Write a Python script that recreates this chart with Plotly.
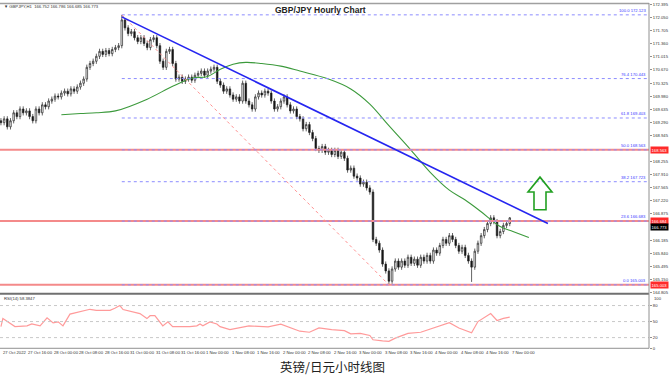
import plotly.graph_objects as go

W, H = 672, 377

# ---------------- data ----------------
open_ = [169.33,169.28,169.38,169.17,169.33,169.54,169.44,169.64,169.54,169.59,169.44,169.33,169.64,169.54,169.75,169.70,
         169.85,169.90,169.98,169.96,170.06,170.11,170.04,170.17,170.11,170.22,170.32,170.43,170.74,170.84,170.90,171.03,
         171.16,171.08,171.18,171.10,171.21,171.26,171.31,171.99,171.78,171.63,171.68,171.52,171.42,171.52,171.37,171.26,
         171.47,171.52,171.31,170.90,170.74,171.16,171.21,170.84,170.43,170.48,170.37,170.43,170.48,170.40,170.53,170.58,
         170.64,170.53,170.64,170.69,170.74,170.37,170.27,170.11,170.17,170.01,169.90,169.96,169.85,170.32,169.85,169.75,
         169.64,169.96,170.06,170.01,170.11,170.06,169.85,169.64,169.70,169.85,169.96,169.75,169.59,169.64,169.44,169.38,
         169.12,169.23,169.02,168.86,168.60,168.55,168.65,168.50,168.55,168.44,168.55,168.39,168.50,168.34,168.03,168.08,
         167.87,167.82,167.66,167.71,167.56,167.45,166.20,166.10,165.92,165.55,165.37,165.10,165.42,165.63,165.47,165.63,
         165.52,165.73,165.57,165.68,165.52,165.73,165.63,165.78,165.63,165.92,165.84,166.04,166.20,166.10,166.30,166.20,
         166.04,165.89,165.99,165.78,165.63,165.47,165.89,166.10,166.30,166.46,166.62,166.77,166.67,166.30,166.41,166.57,
         166.62]
high = [169.40,169.45,169.45,169.40,169.61,169.61,169.71,169.71,169.66,169.66,169.51,169.71,169.71,169.82,169.82,169.92,
        169.97,170.05,170.05,170.13,170.18,170.18,170.24,170.24,170.29,170.39,170.50,170.81,170.91,170.97,171.10,171.23,
        171.23,171.25,171.25,171.28,171.33,171.38,172.12,172.04,171.85,171.75,171.75,171.59,171.59,171.59,171.44,171.54,
        171.59,171.59,171.38,170.97,171.23,171.28,171.28,170.91,170.55,170.55,170.50,170.55,170.55,170.60,170.65,170.71,
        170.71,170.71,170.76,170.81,170.81,170.44,170.34,170.24,170.24,170.08,170.03,170.03,170.39,170.39,169.92,169.82,
        170.03,170.13,170.13,170.18,170.18,170.13,169.92,169.77,169.92,170.03,170.03,169.82,169.71,169.71,169.51,169.45,
        169.30,169.30,169.09,168.93,168.67,168.72,168.72,168.62,168.62,168.62,168.62,168.57,168.57,168.41,168.15,168.15,
        167.94,167.89,167.78,167.78,167.63,167.52,166.27,166.17,165.99,165.62,165.44,165.49,165.70,165.70,165.70,165.70,
        165.80,165.80,165.75,165.75,165.80,165.80,165.85,165.85,165.99,165.99,166.11,166.27,166.27,166.37,166.37,166.27,
        166.11,166.06,166.06,165.85,165.70,165.96,166.17,166.37,166.53,166.69,166.84,166.84,166.74,166.48,166.64,166.69,
        166.79]
low = [169.21,169.21,169.10,169.10,169.26,169.37,169.37,169.47,169.47,169.37,169.26,169.26,169.47,169.47,169.63,169.63,
       169.78,169.83,169.89,169.89,169.99,169.97,169.97,170.04,170.04,170.15,170.25,170.36,170.67,170.77,170.83,170.96,
       171.01,171.01,171.03,171.03,171.14,171.19,171.24,171.71,171.56,171.56,171.45,171.35,171.35,171.30,171.19,171.19,
       171.40,171.24,170.83,170.67,170.67,171.09,170.77,170.36,170.36,170.30,170.30,170.36,170.33,170.33,170.46,170.51,
       170.46,170.46,170.57,170.62,170.30,170.20,170.04,170.04,169.94,169.83,169.83,169.78,169.78,169.78,169.68,169.57,
       169.57,169.89,169.94,169.94,169.99,169.78,169.57,169.57,169.63,169.78,169.68,169.52,169.52,169.37,169.31,169.05,
       169.05,168.95,168.79,168.53,168.48,168.48,168.43,168.43,168.37,168.37,168.32,168.32,168.27,167.96,167.96,167.80,
       167.75,167.59,167.59,167.49,167.38,166.13,166.03,165.85,165.48,165.30,165.00,165.03,165.35,165.40,165.40,165.45,
       165.45,165.50,165.50,165.45,165.45,165.56,165.56,165.56,165.56,165.77,165.77,165.97,166.03,166.03,166.13,165.97,
       165.82,165.82,165.71,165.56,165.08,165.40,165.82,166.03,166.23,166.39,166.55,166.60,166.23,166.23,166.34,166.50,
       166.55]
close = [169.28,169.38,169.17,169.33,169.54,169.44,169.64,169.54,169.59,169.44,169.33,169.64,169.54,169.75,169.70,169.85,
         169.90,169.98,169.96,170.06,170.11,170.04,170.17,170.11,170.22,170.32,170.43,170.74,170.84,170.90,171.03,171.16,
         171.08,171.18,171.10,171.21,171.26,171.31,171.99,171.78,171.63,171.68,171.52,171.42,171.52,171.37,171.26,171.47,
         171.52,171.31,170.90,170.74,171.16,171.21,170.84,170.43,170.48,170.37,170.43,170.48,170.40,170.53,170.58,170.64,
         170.53,170.64,170.69,170.74,170.37,170.27,170.11,170.17,170.01,169.90,169.96,169.85,170.32,169.85,169.75,169.64,
         169.96,170.06,170.01,170.11,170.06,169.85,169.64,169.70,169.85,169.96,169.75,169.59,169.64,169.44,169.38,169.12,
         169.23,169.02,168.86,168.60,168.55,168.65,168.50,168.55,168.44,168.55,168.39,168.50,168.34,168.03,168.08,167.87,
         167.82,167.66,167.71,167.56,167.45,166.20,166.10,165.92,165.55,165.37,165.10,165.42,165.63,165.47,165.63,165.52,
         165.73,165.57,165.68,165.52,165.73,165.63,165.78,165.63,165.92,165.84,166.04,166.20,166.10,166.30,166.20,166.04,
         165.89,165.99,165.78,165.63,165.47,165.89,166.10,166.30,166.46,166.62,166.77,166.67,166.30,166.41,166.57,166.62,
         166.77]
bars = list(range(len(close)))

ma_bars = [19, 25, 30, 36, 46, 54, 60, 65, 69, 73, 77, 82, 88, 94, 103, 110, 116, 122, 129, 135, 141, 146, 151, 157, 161, 166]
ma_vals = [169.49,169.52,169.54,169.59,169.90,170.24,170.45,170.50,170.69,170.82,170.87,170.84,170.77,170.64,170.43,
           170.17,169.77,169.20,168.55,167.97,167.50,167.24,166.93,166.54,166.41,166.25]

rsi_bars = [0,0.6,4.4,8.2,9.7,12.3,14.5,16.4,18,19.5,21.7,24.8,28,30,34.3,35.8,37.4,38.4,41.5,43.7,45.9,46.9,48.4,50.9,
            52.5,54,59.4,61.6,62.6,63.5,65.7,67.9,68.9,72,78,84,88,91,94,97,100,104,108,110,113,116,117,120,122,124,128,
            132,136,139,141,144,147,148,150,152,154,156,158,160]
rsi_vals = [40.6,55.6,40.6,42,45.6,42,57,47.5,49.4,42,64,68,73,71,71,75,80,72.5,68.8,65,55.6,61,61,42,49.4,40.6,40.6,42,
            45.6,42,49.4,45.6,40.6,35,42,40,45,38,32,30,38,35,33,27,28,24,16,14,13,19,28,30,38,45,48,38,32,29,50,58,65,
            52,56,58.4]

label_bars = [0, 8, 16, 24, 32, 40, 48, 56, 64, 72, 80, 88, 96, 104, 112, 120, 128, 136, 144, 152, 160]
label_text = ["27 Oct 2022", "27 Oct 16:00", "28 Oct 00:00", "28 Oct 08:00", "28 Oct 16:00", "31 Oct 00:00",
              "31 Oct 08:00", "31 Oct 16:00", "1 Nov 00:00", "1 Nov 08:00", "1 Nov 16:00", "2 Nov 00:00",
              "2 Nov 08:00", "2 Nov 16:00", "3 Nov 00:00", "3 Nov 08:00", "3 Nov 16:00", "4 Nov 00:00",
              "4 Nov 08:00", "4 Nov 16:00", "7 Nov 00:00"]

price_ticks = [172.395,172.050,171.705,171.360,171.015,170.670,170.325,169.980,169.635,169.290,168.945,
               168.255,167.910,167.565,167.220,166.875,166.185,165.840,165.495,165.150,164.805]

fib_high_bar, fib_high = 38, 172.123
fib_low_bar, fib_low = 122, 165.003
fib_levels = [100.0, 76.4, 61.8, 50.0, 38.2, 23.6, 0.0]
red_levels = [168.563, 166.684, 165.003]
trend_bars = [38, 172]
trend_prices = [172.07, 166.62]
rsi_levels = [80, 50, 20]
rsi_ticks = [80, 50, 20, 0]
last_close = 166.773

# ---------------- layout helpers ----------------
def px(x):
    return x / W

def py(y):
    return 1 - y / H

X_RIGHT = 649
MAIN_TOP, MAIN_BOT = 2, 295
RSI_TOP, RSI_BOT = 296, 350
x_range = [-0.3, -0.3 + X_RIGHT / 3.18]
y_range = [172.462 - 0.026092 * MAIN_BOT, 172.462 - 0.026092 * MAIN_TOP]

FAM = "Liberation Sans, Arial, sans-serif"
small = dict(family=FAM, size=4.2, color="#333333")

fig = go.Figure()
fig.add_trace(go.Candlestick(
    x=bars, open=open_, high=high, low=low, close=close,
    increasing=dict(line=dict(color="#222222", width=0.7), fillcolor="white"),
    decreasing=dict(line=dict(color="#222222", width=0.7), fillcolor="#111111"),
    whiskerwidth=0, showlegend=False, xaxis="x", yaxis="y", hoverinfo="skip"))

fig.add_trace(go.Scatter(x=ma_bars, y=ma_vals, mode="lines", line=dict(color="#3c9a3c", width=1.1, shape="spline"),
                         showlegend=False, xaxis="x", yaxis="y", hoverinfo="skip"))

fig.add_trace(go.Scatter(x=rsi_bars, y=rsi_vals, mode="lines", line=dict(color="#ff9a9a", width=1.2),
                         showlegend=False, xaxis="x2", yaxis="y2", hoverinfo="skip"))

shapes = []
annotations = []
for lv in red_levels:
    shapes.append(dict(type="line", xref="paper", yref="y", x0=0, x1=px(X_RIGHT), y0=lv, y1=lv,
                       line=dict(color="#f48a8a", width=2)))
for f in fib_levels:
    lv = fib_low + (fib_high - fib_low) * f / 100.0
    shapes.append(dict(type="line", xref="x", yref="y", x0=fib_high_bar, x1=x_range[1], y0=lv, y1=lv,
                       line=dict(color="#8c8cff", width=1, dash="dot")))
    annotations.append(dict(xref="paper", yref="y", x=px(X_RIGHT - 1), y=lv, xanchor="right", yanchor="bottom",
                            text=f"{f:.1f} {lv:.3f}", showarrow=False,
                            font=dict(family=FAM, size=4.2, color="#3a3aff")))
shapes.append(dict(type="line", xref="x", yref="y", x0=fib_high_bar, y0=fib_high, x1=fib_low_bar, y1=fib_low,
                   line=dict(color="#ff9090", width=1, dash="dot")))
shapes.append(dict(type="line", xref="x", yref="y", x0=trend_bars[0], y0=trend_prices[0], x1=trend_bars[1],
                   y1=trend_prices[1], line=dict(color="#2525f0", width=1.6)))
for lv in rsi_levels:
    shapes.append(dict(type="line", xref="paper", yref="y2", x0=0, x1=px(X_RIGHT), y0=lv, y1=lv,
                       line=dict(color="#c8c8c8", width=1, dash="dot")))
shapes.append(dict(type="line", xref="paper", yref="paper", x0=0, x1=px(X_RIGHT), y0=py(1.5), y1=py(1.5),
                   line=dict(color="#a0a0a0", width=1.5)))
shapes.append(dict(type="line", xref="paper", yref="paper", x0=0, x1=px(X_RIGHT), y0=py(MAIN_BOT), y1=py(MAIN_BOT),
                   line=dict(color="#707070", width=2)))
shapes.append(dict(type="line", xref="paper", yref="paper", x0=0, x1=px(X_RIGHT), y0=py(RSI_BOT), y1=py(RSI_BOT),
                   line=dict(color="#909090", width=1)))
shapes.append(dict(type="line", xref="paper", yref="paper", x0=px(X_RIGHT), x1=px(X_RIGHT), y0=py(1), y1=py(RSI_BOT),
                   line=dict(color="#909090", width=1)))
arrow_pts = [(540, 177), (552, 192), (546, 192), (546, 210), (534, 210), (534, 192), (528, 192)]
path = "M " + " L ".join(f"{px(a):.5f},{py(b):.5f}" for a, b in arrow_pts) + " Z"
shapes.append(dict(type="path", xref="paper", yref="paper", path=path, line=dict(color="#22a022", width=1.6),
                   fillcolor="rgba(0,0,0,0)"))

for lv in red_levels:
    annotations.append(dict(xref="paper", yref="y", x=px(X_RIGHT + 1), y=lv, xanchor="left", yanchor="middle",
                            text=f"{lv:.3f}", showarrow=False, bgcolor="#ff2a2a", borderpad=0.5,
                            font=dict(family=FAM, size=4.2, color="white")))
annotations.append(dict(xref="paper", yref="y", x=px(X_RIGHT + 1), y=last_close, yshift=-9.5, xanchor="left",
                        yanchor="middle", text=f"{last_close:.3f}", showarrow=False, bgcolor="#000000", borderpad=0.5,
                        font=dict(family=FAM, size=4.2, color="white")))
annotations.append(dict(xref="paper", yref="paper", x=px(X_RIGHT + 3), y=py(299.5), xanchor="left",
                        yanchor="middle", text="100", showarrow=False, font=small))

for b, t in zip(label_bars, label_text):
    annotations.append(dict(xref="x", yref="paper", x=b, y=py(354), xanchor="left", yanchor="middle", text=t,
                            showarrow=False, font=small))

annotations += [
    dict(xref="paper", yref="paper", x=px(2), y=py(4.5), xanchor="left", yanchor="middle",
         text="▼ GBPJPY,H1  166.752 166.786 166.685 166.773", showarrow=False, font=small),
    dict(xref="paper", yref="paper", x=px(320), y=py(8), xanchor="center", yanchor="middle",
         text="<b>GBP/JPY Hourly Chart</b>", showarrow=False,
         font=dict(family=FAM, size=8.5, color="#222222")),
    dict(xref="paper", yref="paper", x=px(2), y=py(299.5), xanchor="left", yanchor="middle",
         text="RSI(14) 58.3847", showarrow=False, font=small),
    dict(xref="paper", yref="paper", x=px(332), y=py(368), xanchor="center", yanchor="middle",
         text="英镑/日元小时线图", showarrow=False,
         font=dict(family="Noto Sans CJK SC", size=12.5, color="#222222")),
]

fig.update_layout(
    width=W, height=H, margin=dict(l=0, r=0, t=0, b=0),
    paper_bgcolor="white", plot_bgcolor="white", showlegend=False,
    shapes=shapes, annotations=annotations,
    xaxis=dict(domain=[0, px(X_RIGHT)], range=x_range, showticklabels=False, showgrid=False, zeroline=False,
               rangeslider=dict(visible=False), anchor="y", fixedrange=True),
    yaxis=dict(domain=[py(MAIN_BOT), py(MAIN_TOP)], range=y_range, side="right", showgrid=False, zeroline=False,
               tickvals=price_ticks, ticktext=[f"{v:.3f}" for v in price_ticks], tickfont=small,
               ticks="outside", ticklen=2, tickcolor="#909090", anchor="x"),
    xaxis2=dict(domain=[0, px(X_RIGHT)], range=x_range, showticklabels=False, showgrid=False, zeroline=False,
                anchor="y2", matches="x"),
    yaxis2=dict(domain=[py(RSI_BOT), py(RSI_TOP)], range=[0, 100], side="right", showgrid=False, zeroline=False,
                tickvals=rsi_ticks, ticktext=[str(v) for v in rsi_ticks], tickfont=small,
                ticks="outside", ticklen=2, tickcolor="#909090", anchor="x2"),
)

fig.write_html("out.html")
